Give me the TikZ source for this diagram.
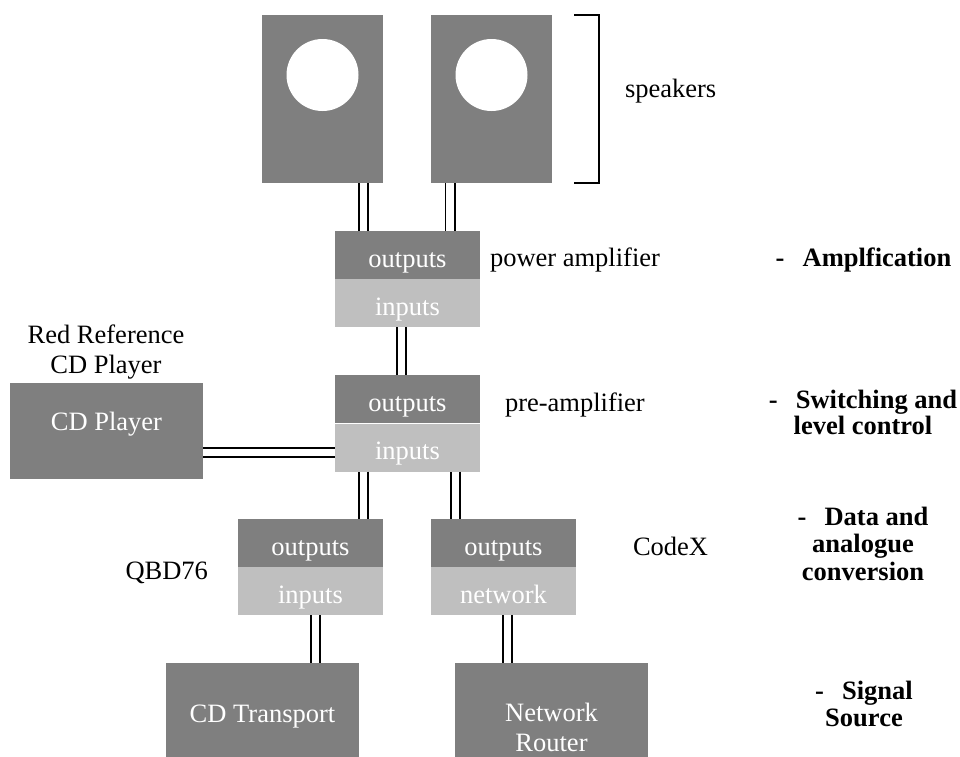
\documentclass[tikz,border=0pt]{standalone}
\usepackage{fontspec}
\setmainfont{Liberation Serif}
\definecolor{dkgray}{HTML}{7F7F7F}
\definecolor{ltgray}{HTML}{BFBFBF}
\begin{document}
\begin{tikzpicture}[x=1pt,y=-1pt,
  every node/.style={inner sep=0pt, outer sep=0pt},
  reg/.style={font=\fontsize{26.5}{30}\selectfont},
  stagelbl/.style={font=\fontsize{26.5}{27.5}\selectfont\bfseries, align=center, anchor=north},
  section/.style={reg, text=white, minimum width=145pt, minimum height=48pt, text height=24pt, text depth=0pt},
  outsec/.style={section, fill=dkgray},
  insec/.style={section, fill=ltgray},
  unit/.style={reg, fill=dkgray, text=white, minimum width=193pt, align=center},
  spkbox/.style={fill=dkgray, minimum width=121pt, minimum height=168pt},
  cone/.style={circle, fill=white, minimum size=72pt},
  wire/.style={line width=1.7pt, draw=black, double=white, double distance=7.6pt},
  bracket/.style={line width=1.8pt}
]
\useasboundingbox (0,0) rectangle (960,756);
\fill[white] (0,0) rectangle (960,756);

% speakers
\node[spkbox] (spkL) at (322.5,99) {};
\node[cone] (coneL) at (322.5,75) {};
\node[spkbox] (spkR) at (491.5,99) {};
\node[cone] (coneR) at (491.5,75) {};
\coordinate (brA) at (574,15);
\coordinate (brB) at (599,15);
\coordinate (brC) at (599,183);
\coordinate (brD) at (574,183);
\draw[bracket] (brA) -- (brB) -- (brC) -- (brD);

% amplifier sections
\node[outsec] (pao) at (407.5,255) {outputs};
\node[insec]  (pai) at (407.5,303) {inputs};
\node[outsec] (pro) at (407.5,399) {outputs};
\node[insec]  (pri) at (407.5,447.5) {inputs};
\node[outsec] (qo) at (310.5,543) {outputs};
\node[insec]  (qi) at (310.5,591) {inputs};
\node[outsec] (co) at (503.5,543) {outputs};
\node[insec]  (ci) at (503.5,591) {network};

% source units
\node[unit, minimum height=96pt, text height=10pt, text depth=12pt] (cdp) at (106.5,431) {CD Player};
\node[unit, minimum height=108pt] (cdt) at (262.5,717) {CD Transport};
\node[unit, minimum height=128pt] (nr) at (551.5,727) {Network\\Router};

% labels
\node[reg, anchor=base west] (lspk) at (625,97) {speakers};
\node[reg, anchor=base west] (lpa) at (490,266) {power amplifier};
\node[reg, anchor=base west] (lpre) at (505,411) {pre-amplifier};
\node[reg, anchor=base west] (lcx) at (633,555) {CodeX};
\node[reg, anchor=base east] (lqbd) at (208,579) {QBD76};
\node[reg, align=center, anchor=north] (lred) at (106,325) {Red Reference\\CD Player};

% stage labels
\node[stagelbl, anchor=base] (s1) at (863.5,266) {\makebox[27pt][l]{-}Amplfication};
\node[stagelbl, font=\fontsize{26.5}{26}\selectfont\bfseries] (s2) at (863,390) {\makebox[27pt][l]{-}Switching and\\level control};
\node[stagelbl] (s3) at (863,507) {\makebox[27pt][l]{-}Data and\\analogue\\conversion};
\node[stagelbl] (s4) at (864,681) {\makebox[27pt][l]{-}Signal\\Source};

% connectors
\draw[wire] ([xshift=41pt]spkL.south) -- ([xshift=41pt]spkL.south |- pao.north);
\draw[wire] ([xshift=-41.5pt]spkR.south) -- ([xshift=-41.5pt]spkR.south |- pao.north);
\draw[wire] ([xshift=-6pt]pai.south) -- ([xshift=-6pt]pai.south |- pro.north);
\draw[wire] ([yshift=-21.5pt]cdp.east) -- ([yshift=-21.5pt]cdp.east -| pri.west);
\draw[wire] ([xshift=-44pt]pri.south) -- ([xshift=-44pt]pri.south |- qo.north);
\draw[wire] ([xshift=48pt]pri.south) -- ([xshift=48pt]pri.south |- co.north);
\draw[wire] ([xshift=5pt]qi.south) -- ([xshift=5pt]qi.south |- cdt.north);
\draw[wire] ([xshift=4pt]ci.south) -- ([xshift=4pt]ci.south |- nr.north);
\end{tikzpicture}
\end{document}
